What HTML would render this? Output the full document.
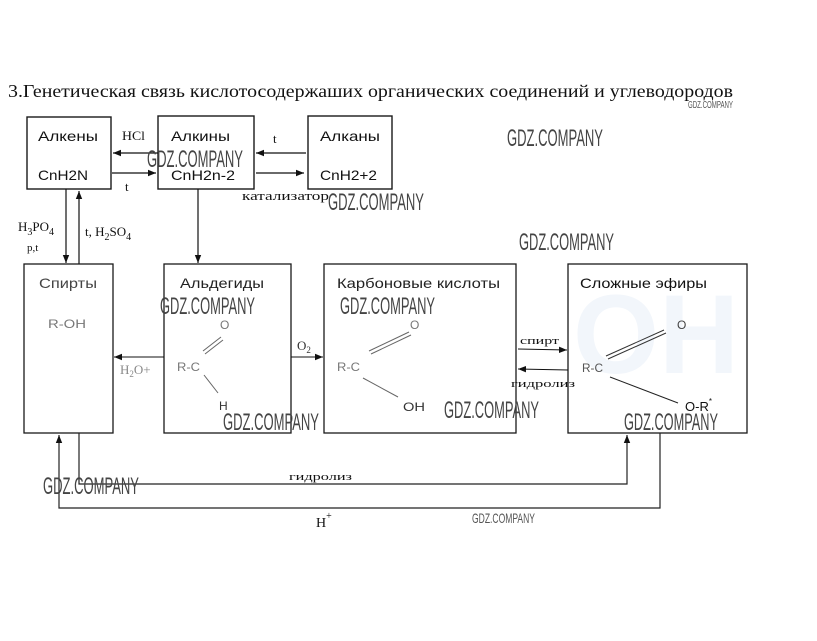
<!DOCTYPE html>
<html><head><meta charset="utf-8"><style>
html,body{margin:0;padding:0;background:#fff;width:817px;height:641px;overflow:hidden}
svg{display:block}
</style></head><body>
<svg width="817" height="641" viewBox="0 0 817 641" xmlns="http://www.w3.org/2000/svg">
<rect width="817" height="641" fill="#fff"/>
<defs>
<marker id="ah" viewBox="0 0 10 8" refX="10" refY="4" markerWidth="8" markerHeight="7" markerUnits="userSpaceOnUse" orient="auto">
<path d="M0,0 L10,4 L0,8 z" fill="#111"/>
</marker>
</defs>

<!-- faint light-blue watermark -->
<text x="573" y="373" font-family="Liberation Sans, sans-serif" font-weight="bold" font-size="112" fill="#f2f6fb" textLength="166" lengthAdjust="spacingAndGlyphs">OH</text>

<!-- Title -->
<text x="8" y="97" font-family="Liberation Serif, serif" font-size="17.5" fill="#111" textLength="725" lengthAdjust="spacingAndGlyphs">3.Генетическая связь кислотосодержаших органических соединений и углеводородов</text>

<!-- Row 1 boxes -->
<g fill="none" stroke="#1a1a1a" stroke-width="1.4">
<rect x="27" y="117" width="84" height="72"/>
<rect x="158" y="116" width="96" height="73"/>
<rect x="308" y="116" width="84" height="73"/>
</g>
<g font-family="Liberation Sans, sans-serif" font-size="14" fill="#111">
<text x="38" y="141" textLength="60" lengthAdjust="spacingAndGlyphs">Алкены</text>
<text x="38" y="180" textLength="50" lengthAdjust="spacingAndGlyphs">CnH2N</text>
<text x="171" y="141" textLength="59" lengthAdjust="spacingAndGlyphs">Алкины</text>
<text x="171" y="180" textLength="64" lengthAdjust="spacingAndGlyphs">CnH2n-2</text>
<text x="320" y="141" textLength="60" lengthAdjust="spacingAndGlyphs">Алканы</text>
<text x="320" y="180" textLength="57" lengthAdjust="spacingAndGlyphs">CnH2+2</text>
</g>

<!-- Row 1 arrows -->
<g stroke="#111" stroke-width="1.2" fill="none">
<line x1="158" y1="153" x2="113" y2="153" marker-end="url(#ah)"/>
<line x1="112" y1="173" x2="156" y2="173" marker-end="url(#ah)"/>
<line x1="306" y1="153" x2="256" y2="153" marker-end="url(#ah)"/>
<line x1="256" y1="173" x2="304" y2="173" marker-end="url(#ah)"/>
<line x1="66" y1="189" x2="66" y2="263" marker-end="url(#ah)"/>
<line x1="79" y1="264" x2="79" y2="191" marker-end="url(#ah)"/>
<line x1="198" y1="189" x2="198" y2="263" marker-end="url(#ah)"/>
</g>
<g font-family="Liberation Serif, serif" fill="#111">
<text x="122" y="140" font-size="13" textLength="23" lengthAdjust="spacingAndGlyphs">HCl</text>
<text x="125" y="191" font-size="13">t</text>
<text x="273" y="143" font-size="13">t</text>
<text x="242" y="200" font-size="13" textLength="87" lengthAdjust="spacingAndGlyphs">катализатор</text>
<text x="18" y="231" font-size="13">H<tspan font-size="10" dy="4">3</tspan><tspan dy="-4">PO</tspan><tspan font-size="10" dy="4">4</tspan></text>
<text x="27" y="251" font-size="11">p,t</text>
<text x="85" y="236" font-size="13">t, H<tspan font-size="10" dy="4">2</tspan><tspan dy="-4">SO</tspan><tspan font-size="10" dy="4">4</tspan></text>
</g>

<!-- Row 2 boxes -->
<g fill="none" stroke="#1a1a1a" stroke-width="1.3">
<rect x="24" y="264" width="89" height="169"/>
<rect x="164" y="264" width="127" height="169"/>
<rect x="324" y="264" width="192" height="169"/>
<rect x="568" y="264" width="179" height="169"/>
</g>
<g font-family="Liberation Sans, sans-serif" font-size="14" fill="#222">
<text x="39" y="288" fill="#444" textLength="58" lengthAdjust="spacingAndGlyphs">Спирты</text>
<text x="180" y="288" textLength="84" lengthAdjust="spacingAndGlyphs">Альдегиды</text>
<text x="337" y="288" textLength="163" lengthAdjust="spacingAndGlyphs">Карбоновые кислоты</text>
<text x="580" y="288" fill="#111" textLength="127" lengthAdjust="spacingAndGlyphs">Сложные эфиры</text>
</g>

<!-- structures -->
<g font-family="Liberation Sans, sans-serif" font-size="12" fill="#777">
<text x="48" y="328" textLength="38" lengthAdjust="spacingAndGlyphs">R-OH</text>
<text x="220" y="329">O</text>
<text x="177" y="371" textLength="23" lengthAdjust="spacingAndGlyphs">R-C</text>
<text x="219" y="410" fill="#333">H</text>
<text x="410" y="329">O</text>
<text x="337" y="371" textLength="23" lengthAdjust="spacingAndGlyphs">R-C</text>
<text x="403" y="411" fill="#333" textLength="22" lengthAdjust="spacingAndGlyphs">OH</text>
<text x="677" y="329" fill="#444">O</text>
<text x="582" y="372" fill="#555" textLength="21" lengthAdjust="spacingAndGlyphs">R-C</text>
<text x="685" y="411" fill="#111" font-size="13">O-R<tspan font-size="8" dy="-7">*</tspan></text>
</g>
<g stroke="#666" stroke-width="1" fill="none">
<line x1="203" y1="351" x2="221" y2="337"/>
<line x1="205" y1="354" x2="223" y2="340"/>
<line x1="204" y1="375" x2="218" y2="393"/>
<line x1="369" y1="351" x2="409" y2="332"/>
<line x1="371" y1="354" x2="411" y2="335"/>
<line x1="363" y1="378" x2="398" y2="397"/>
<line x1="606" y1="356" x2="664" y2="330" stroke="#333"/>
<line x1="608" y1="359" x2="666" y2="333" stroke="#333"/>
<line x1="610" y1="377" x2="678" y2="403" stroke="#222"/>
</g>

<!-- Row 2 arrows -->
<g stroke="#111" stroke-width="1.1" fill="none">
<line x1="164" y1="357" x2="114" y2="357" marker-end="url(#ah)"/>
<line x1="291" y1="357" x2="323" y2="357" marker-end="url(#ah)"/>
<line x1="518" y1="349" x2="567" y2="350" marker-end="url(#ah)"/>
<line x1="568" y1="370" x2="518" y2="369" marker-end="url(#ah)"/>
</g>
<g font-family="Liberation Serif, serif" fill="#111">
<text x="120" y="374" font-size="13" fill="#888">H<tspan font-size="9" dy="3">2</tspan><tspan dy="-3">O+</tspan></text>
<text x="297" y="350" font-size="13" fill="#333">O<tspan font-size="9" dy="3">2</tspan></text>
<text x="520" y="344" font-size="10" textLength="39" lengthAdjust="spacingAndGlyphs">спирт</text>
<text x="511" y="387" font-size="11" textLength="64" lengthAdjust="spacingAndGlyphs">гидролиз</text>
</g>

<!-- Bottom connectors -->
<g stroke="#222" stroke-width="1.2" fill="none">
<polyline points="79,433 79,484 627,484 627,435" marker-end="url(#ah)"/>
<polyline points="660,433 660,508 59,508 59,435" marker-end="url(#ah)"/>
</g>
<g font-family="Liberation Serif, serif" fill="#111">
<text x="289" y="480" font-size="11" textLength="63" lengthAdjust="spacingAndGlyphs">гидролиз</text>
<text x="316" y="527" font-size="14">H<tspan font-size="10" dy="-8">+</tspan></text>
</g>

<!-- watermarks -->
<g font-family="Liberation Sans, sans-serif" font-size="24" fill="#444">
<text x="147" y="167" textLength="96" lengthAdjust="spacingAndGlyphs">GDZ.COMPANY</text>
<text x="328" y="210" textLength="96" lengthAdjust="spacingAndGlyphs">GDZ.COMPANY</text>
<text x="507" y="146" textLength="96" lengthAdjust="spacingAndGlyphs">GDZ.COMPANY</text>
<text x="519" y="250" textLength="95" lengthAdjust="spacingAndGlyphs">GDZ.COMPANY</text>
<text x="160" y="314" textLength="95" lengthAdjust="spacingAndGlyphs">GDZ.COMPANY</text>
<text x="223" y="430" textLength="96" lengthAdjust="spacingAndGlyphs">GDZ.COMPANY</text>
<text x="340" y="314" textLength="95" lengthAdjust="spacingAndGlyphs">GDZ.COMPANY</text>
<text x="444" y="418" textLength="95" lengthAdjust="spacingAndGlyphs">GDZ.COMPANY</text>
<text x="624" y="430" textLength="94" lengthAdjust="spacingAndGlyphs">GDZ.COMPANY</text>
<text x="43" y="494" textLength="96" lengthAdjust="spacingAndGlyphs">GDZ.COMPANY</text>
</g>
<g font-family="Liberation Sans, sans-serif" fill="#555">
<text x="688" y="108" font-size="10" textLength="45" lengthAdjust="spacingAndGlyphs">GDZ.COMPANY</text>
<text x="472" y="523" font-size="14" textLength="63" lengthAdjust="spacingAndGlyphs">GDZ.COMPANY</text>
</g>
</svg>
</body></html>
